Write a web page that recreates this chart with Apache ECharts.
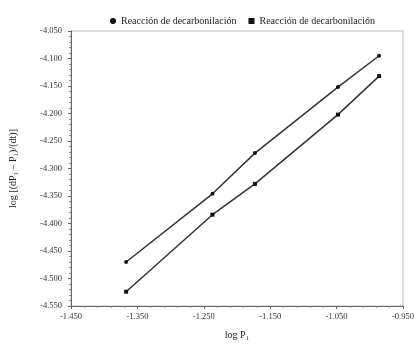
<!DOCTYPE html>
<html><head><meta charset="utf-8">
<style>html,body{margin:0;padding:0;background:#fff}#c{width:419px;height:345px}</style>
<script src="https://cdn.jsdelivr.net/npm/echarts@6/dist/echarts.min.js"></script>
</head><body><div id="c"></div>
<script>
var seriesNames = ['Reacción de decarbonilación', 'Reacción de decarbonilación'];
var xValues = [-1.367, -1.237, -1.173, -1.048, -0.986];
var upperY = [-4.470, -4.346, -4.272, -4.152, -4.095];
var lowerY = [-4.524, -4.384, -4.328, -4.202, -4.132];

function pairs(xs, ys){ return xs.map(function(x,i){ return [x, ys[i]]; }); }
var font = 'Liberation Serif';
var chart = echarts.init(document.getElementById('c'));
chart.setOption({
  animation:false,
  textStyle:{fontFamily:font},
  legend:{
    top:11, left:105, itemWidth:6, itemHeight:6, itemGap:12,
    textStyle:{fontFamily:font, fontSize:10, color:'#222'},
    data:[{name:'A', icon:'circle'},{name:'B', icon:'rect'}],
    formatter:function(n){ return n==='A'?seriesNames[0]:seriesNames[1]; }
  },
  grid:{left:70, right:16, top:31, bottom:39, show:true, borderColor:'#bbb', borderWidth:1},
  xAxis:{
    type:'value', min:-1.45, max:-0.95, interval:0.1,
    name:'log P\u2081', nameLocation:'middle', nameGap:24,
    nameTextStyle:{fontFamily:font, fontSize:10, color:'#222'},
    axisLine:{show:true, lineStyle:{color:'#666'}},
    axisTick:{show:true, length:3, lineStyle:{color:'#666'}},
    minorTick:{show:true, splitNumber:5, length:2, lineStyle:{color:'#888'}},
    splitLine:{show:false},
    axisLabel:{fontFamily:font, fontSize:8.5, color:'#333', margin:6,
      formatter:function(v){ return v.toFixed(3); }}
  },
  yAxis:{
    type:'value', min:-4.55, max:-4.05, interval:0.05,
    name:'log [(dP\u2081 \u2013 P\u2081)/(dt)]', nameLocation:'middle', nameGap:53,
    nameTextStyle:{fontFamily:font, fontSize:10, color:'#222'},
    axisLine:{show:true, lineStyle:{color:'#666'}},
    axisTick:{show:true, length:3, lineStyle:{color:'#666'}},
    minorTick:{show:true, splitNumber:5, length:2, lineStyle:{color:'#888'}},
    splitLine:{show:false},
    axisLabel:{fontFamily:font, fontSize:8.5, color:'#333', margin:9,
      formatter:function(v){ return v.toFixed(3); }}
  },
  series:[
    {name:'A', type:'line', data:pairs(xValues, upperY), symbol:'circle', symbolSize:4,
     itemStyle:{color:'#111'}, lineStyle:{color:'#333', width:1.5}},
    {name:'B', type:'line', data:pairs(xValues, lowerY), symbol:'rect', symbolSize:4,
     itemStyle:{color:'#111'}, lineStyle:{color:'#333', width:1.5}}
  ]
});
</script></body></html>
